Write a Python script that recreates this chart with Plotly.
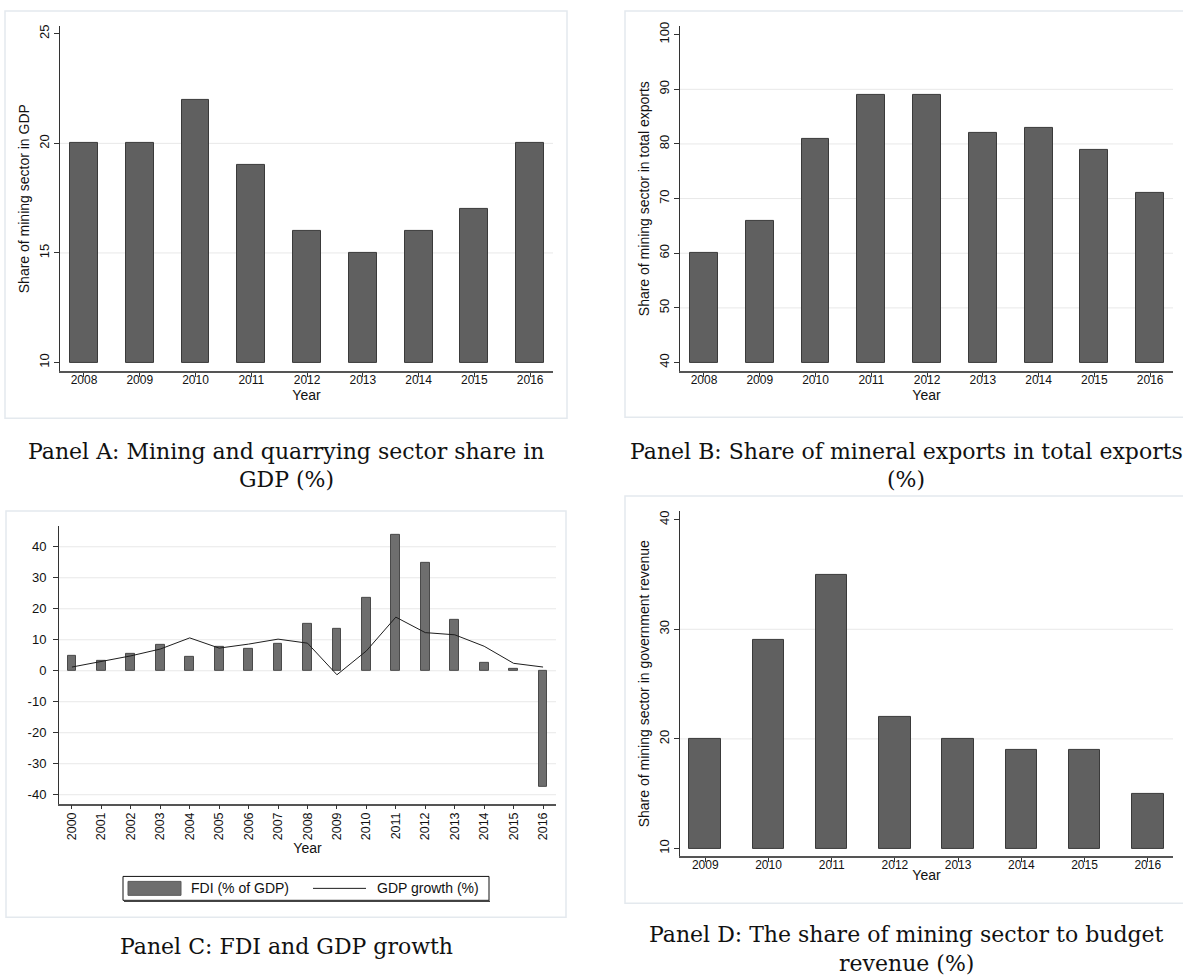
import plotly.graph_objects as go

W, H = 1183, 977

# ---------------- data ----------------
years_a = [2008, 2009, 2010, 2011, 2012, 2013, 2014, 2015, 2016]
share_gdp = [20, 20, 22, 19, 16, 15, 16, 17, 20]
ticks_a = [10, 15, 20, 25]

years_b = [2008, 2009, 2010, 2011, 2012, 2013, 2014, 2015, 2016]
share_exports = [60, 66, 81, 89, 89, 82, 83, 79, 71]
ticks_b = [40, 50, 60, 70, 80, 90, 100]

years_c = [2000, 2001, 2002, 2003, 2004, 2005, 2006, 2007, 2008,
           2009, 2010, 2011, 2012, 2013, 2014, 2015, 2016]
fdi = [4.7, 3.3, 5.6, 8.2, 4.6, 7.6, 7.2, 8.8, 15.0,
       13.6, 23.6, 44.0, 34.8, 16.5, 2.7, 0.7, -37.3]
gdp_growth = [1.2, 3.1, 4.8, 7.0, 10.6, 7.3, 8.6, 10.2, 8.9,
              -1.3, 6.4, 17.3, 12.3, 11.6, 7.9, 2.4, 1.2]
ticks_c = [-40, -30, -20, -10, 0, 10, 20, 30, 40]

years_d = [2009, 2010, 2011, 2012, 2013, 2014, 2015, 2016]
share_revenue = [20, 29, 35, 22, 20, 19, 19, 15]
ticks_d = [10, 20, 30, 40]

captions = {
    "A": ["Panel A: Mining and quarrying sector share in", "GDP (%)"],
    "B": ["Panel B: Share of mineral exports in total exports", "(%)"],
    "C": ["Panel C: FDI and GDP growth"],
    "D": ["Panel D: The share of mining sector to budget", "revenue (%)"],
}
legend_labels = ["FDI (% of GDP)", "GDP growth (%)"]

# ---------------- helpers ----------------
def fx(px):
    return px / W

def fy(py):
    return 1 - py / H

SANS = "Liberation Sans, Arial, sans-serif"
SERIF = "DejaVu Serif, serif"
BAR = "#606060"
BAR_LINE = "#3a3a3a"
AXIS = "#333333"

fig = go.Figure()

def base_bar(x, vals, base, xa, ya, width, color=BAR, line=BAR_LINE):
    fig.add_trace(go.Bar(
        x=x, y=[v - base for v in vals], base=base, width=width,
        marker=dict(color=color, line=dict(color=line, width=1)),
        xaxis=xa, yaxis=ya, showlegend=False,
    ))

base_bar(years_a, share_gdp, 10, "x", "y", 0.5)
base_bar(years_b, share_exports, 40, "x2", "y2", 0.5)
base_bar(years_c, fdi, 0, "x3", "y3", 0.3, color="#6e6e6e", line="#4a4a4a")
fig.add_trace(go.Scatter(x=years_c, y=gdp_growth, mode="lines",
                         line=dict(color="#1e1e1e", width=1),
                         xaxis="x3", yaxis="y3", showlegend=False))
base_bar(years_d, share_revenue, 10, "x4", "y4", 0.5)

def xax(dom, rng, vals, angle=0, size=12, standoff=0, lstand=-8):
    return dict(domain=[fx(dom[0]), fx(dom[1])], range=rng, tickvals=vals,
                ticktext=[str(v) for v in vals], tickangle=angle,
                ticks="outside", ticklen=4, tickcolor=AXIS,
                ticklabelstandoff=lstand,
                showline=True, linecolor="#555555", linewidth=1.5,
                showgrid=False, zeroline=False,
                tickfont=dict(family=SANS, size=size, color="#111"),
                title=dict(text="Year", font=dict(family=SANS, size=14, color="#111"),
                           standoff=standoff),
                fixedrange=True)

def yax(dom, rng, vals, title, anchor, angle=-90, lstand=0):
    return dict(domain=[fy(dom[1]), fy(dom[0])], range=rng, tickvals=vals,
                ticktext=[str(v) for v in vals], tickangle=angle,
                ticks="outside", ticklen=5, tickcolor=AXIS,
                ticklabelstandoff=lstand,
                showline=True, linecolor=AXIS, linewidth=1,
                showgrid=False, zeroline=False, anchor=anchor,
                tickfont=dict(family=SANS, size=13, color="#111"),
                title=dict(text=title, font=dict(family=SANS, size=14, color="#111"),
                           standoff=3),
                fixedrange=True)

fig.update_layout(
    width=W, height=H, margin=dict(l=0, r=0, t=0, b=0),
    paper_bgcolor="white", plot_bgcolor="rgba(0,0,0,0)",
    bargap=0, showlegend=False,
    xaxis=dict(anchor="y", **xax((60, 553), [2007.57, 2016.41], years_a)),
    yaxis=yax((22, 369), [9.59, 25.36], ticks_a, "Share of mining sector in GDP", "x"),
    xaxis2=dict(anchor="y2", **xax((680, 1173), [2007.57, 2016.41], years_b)),
    yaxis2=yax((22, 369), [38.36, 101.6], ticks_b, "Share of mining sector in total exports", "x2"),
    xaxis3=dict(anchor="y3", **xax((59, 556), [1999.56, 2016.44], years_c, angle=-90,
                                    size=12.5, standoff=4, lstand=-2)),
    yaxis3=yax((524, 803), [-42.9, 46.75], ticks_c, "", "x3", angle=0, lstand=4),
    xaxis4=dict(anchor="y4", **xax((680, 1173), [2008.6, 2016.4], years_d)),
    yaxis4=yax((509, 856), [9.27, 40.8], ticks_d, "Share of mining sector in government revenue", "x4"),
)

shapes = []
# panel frames
for (x0, y0, x1, y1) in [(5, 7, 567, 416), (625, 7, 1190, 415),
                          (6, 509, 566, 917), (625, 494, 1190, 903)]:
    shapes.append(dict(type="rect", xref="paper", yref="paper",
                       x0=fx(x0), x1=fx(x1), y0=fy(y1), y1=fy(y0),
                       line=dict(color="#e4e9ee", width=1.5),
                       fillcolor="white", layer="below"))

# gridlines at interior ticks (Stata style)
for ax, ticks, mode in [("", ticks_a, "inner"), ("2", ticks_b, "inner"),
                        ("3", ticks_c, "all"), ("4", ticks_d, "inner")]:
    vals = ticks if mode == "all" else ticks[1:-1]
    for v in vals:
        shapes.append(dict(type="line", xref=f"x{ax} domain", yref=f"y{ax}",
                           x0=0, x1=1, y0=v, y1=v,
                           line=dict(color="#e8e8e8", width=1), layer="below"))

# legend box for panel C (Stata style)
lx0, ly0, lx1, ly1 = 123, 876, 489, 900
shapes.append(dict(type="rect", xref="paper", yref="paper",
                   x0=fx(lx0), x1=fx(lx1), y0=fy(ly1), y1=fy(ly0),
                   line=dict(color="#111", width=1), fillcolor="white"))
shapes.append(dict(type="line", xref="paper", yref="paper",
                   x0=fx(lx0 + 1), x1=fx(lx1 + 1), y0=fy(ly1 + 1), y1=fy(ly1 + 1),
                   line=dict(color="#444", width=1.5)))
shapes.append(dict(type="rect", xref="paper", yref="paper",
                   x0=fx(128), x1=fx(181), y0=fy(895), y1=fy(881),
                   line=dict(color="#5a5a5a", width=1), fillcolor="#6e6e6e"))
shapes.append(dict(type="line", xref="paper", yref="paper",
                   x0=fx(313), x1=fx(366), y0=fy(888), y1=fy(888),
                   line=dict(color="#1e1e1e", width=1)))
fig.update_layout(shapes=shapes)

ann = [
    dict(text=legend_labels[0], x=fx(189), y=fy(888), xanchor="left", yanchor="middle"),
    dict(text=legend_labels[1], x=fx(375), y=fy(888), xanchor="left", yanchor="middle"),
]
for a in ann:
    a.update(xref="paper", yref="paper", showarrow=False,
             font=dict(family=SANS, size=14, color="#111"))

cap_pos = {"A": (286, [449, 477]), "B": (906, [449, 477]),
           "C": (286, [946]), "D": (906, [934, 963])}
for k, (cx, ys) in cap_pos.items():
    for line, cy in zip(captions[k], ys):
        ann.append(dict(text=line, x=fx(cx), y=fy(cy), xref="paper", yref="paper",
                        xanchor="center", yanchor="middle", showarrow=False,
                        font=dict(family=SERIF, size=22, color="#111")))
fig.update_layout(annotations=ann)

fig.write_html("out.html", config={"displayModeBar": False},
               post_script="document.body.style.margin='0px';")
